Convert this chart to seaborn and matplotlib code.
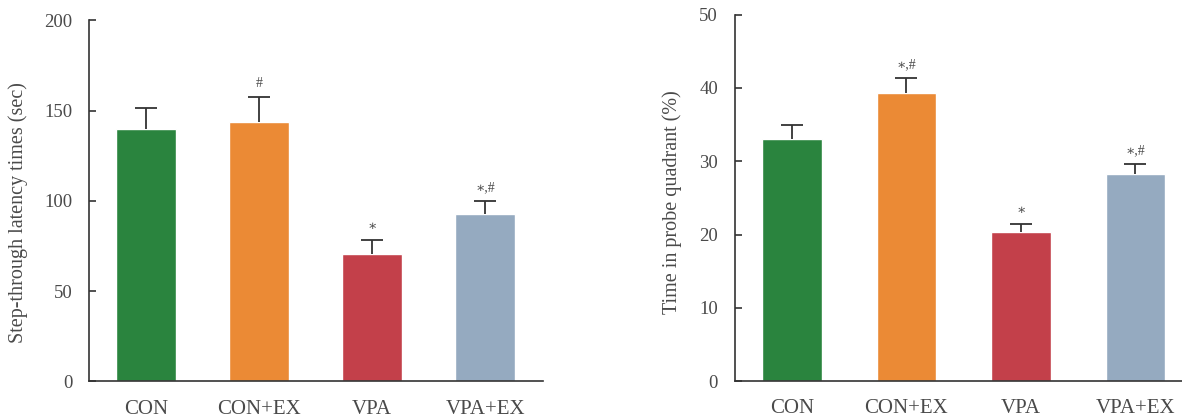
import matplotlib
matplotlib.use("Agg")
import matplotlib.pyplot as plt
import seaborn as sns
import pandas as pd

groups = ["CON", "CON+EX", "VPA", "VPA+EX"]
colors = ["#2a843e", "#eb8a35", "#c3404a", "#95aac0"]

latency_mean = [139.6, 143.5, 70.4, 92.5]
latency_err = [11.8, 13.8, 8.1, 7.4]
latency_marks = ["", "#", "∗", "∗,#"]

probe_mean = [33.1, 39.3, 20.3, 28.3]
probe_err = [1.8, 2.0, 1.1, 1.3]
probe_marks = ["", "∗,#", "∗", "∗,#"]

sns.set_theme(style="white")
plt.rcParams["font.family"] = ["Liberation Serif", "DejaVu Serif"]
text_color = "#4a4a4a"
line_color = "#333333"

fig = plt.figure(figsize=(11.82, 4.2), dpi=100)
ax1 = fig.add_axes([0.0755, 0.0917, 0.3838, 0.860])
ax2 = fig.add_axes([0.6215, 0.0921, 0.3875, 0.873])


def draw(ax, means, errs, marks, ymax, yticks, ylabel, width, xlim):
    df = pd.DataFrame({"group": groups, "value": means})
    sns.barplot(data=df, x="group", y="value", hue="group", palette=colors,
                dodge=False, legend=False, errorbar=None, width=width,
                saturation=1, ax=ax, zorder=2)
    xs = list(range(len(groups)))
    _, caps, _ = ax.errorbar(xs, means, yerr=[[0] * len(means), errs],
                             fmt="none", ecolor=line_color, elinewidth=1.3,
                             capsize=8, capthick=1.3, zorder=3)
    if len(caps) == 2:
        caps[0].set_visible(False)
    for x, m, e, t in zip(xs, means, errs, marks):
        if t:
            ax.annotate(t, (x, m + e), xytext=(0, 5), textcoords="offset points",
                        ha="center", va="bottom", fontsize=10, color=text_color)
    ax.set_ylim(0, ymax)
    ax.set_xlim(*xlim)
    ax.set_yticks(yticks)
    ax.set_yticklabels([str(v) for v in yticks])
    ax.set_xlabel("")
    ax.set_ylabel(ylabel, fontsize=14.5, color=text_color)
    for s in ["top", "right"]:
        ax.spines[s].set_visible(False)
    for s in ["left", "bottom"]:
        ax.spines[s].set_color(line_color)
        ax.spines[s].set_linewidth(1.2)
    ax.tick_params(axis="y", direction="in", length=5, width=1.2,
                   color=line_color, pad=12, labelsize=13.5,
                   labelcolor=text_color, left=True)
    ax.tick_params(axis="x", length=0, pad=13, labelsize=15,
                   labelcolor=text_color)
    ax.grid(False)


draw(ax1, latency_mean, latency_err, latency_marks, 200, [0, 50, 100, 150, 200],
     "Step-through latency times (sec)", 0.53, (-0.5, 3.51))
draw(ax2, probe_mean, probe_err, probe_marks, 50, [0, 10, 20, 30, 40, 50],
     "Time in probe quadrant (%)", 0.52, (-0.5, 3.5))

ax1.yaxis.set_label_coords(-0.134, 0.467)
ax2.yaxis.set_label_coords(-0.114, 0.49)

fig.savefig("out.png", dpi=100)
